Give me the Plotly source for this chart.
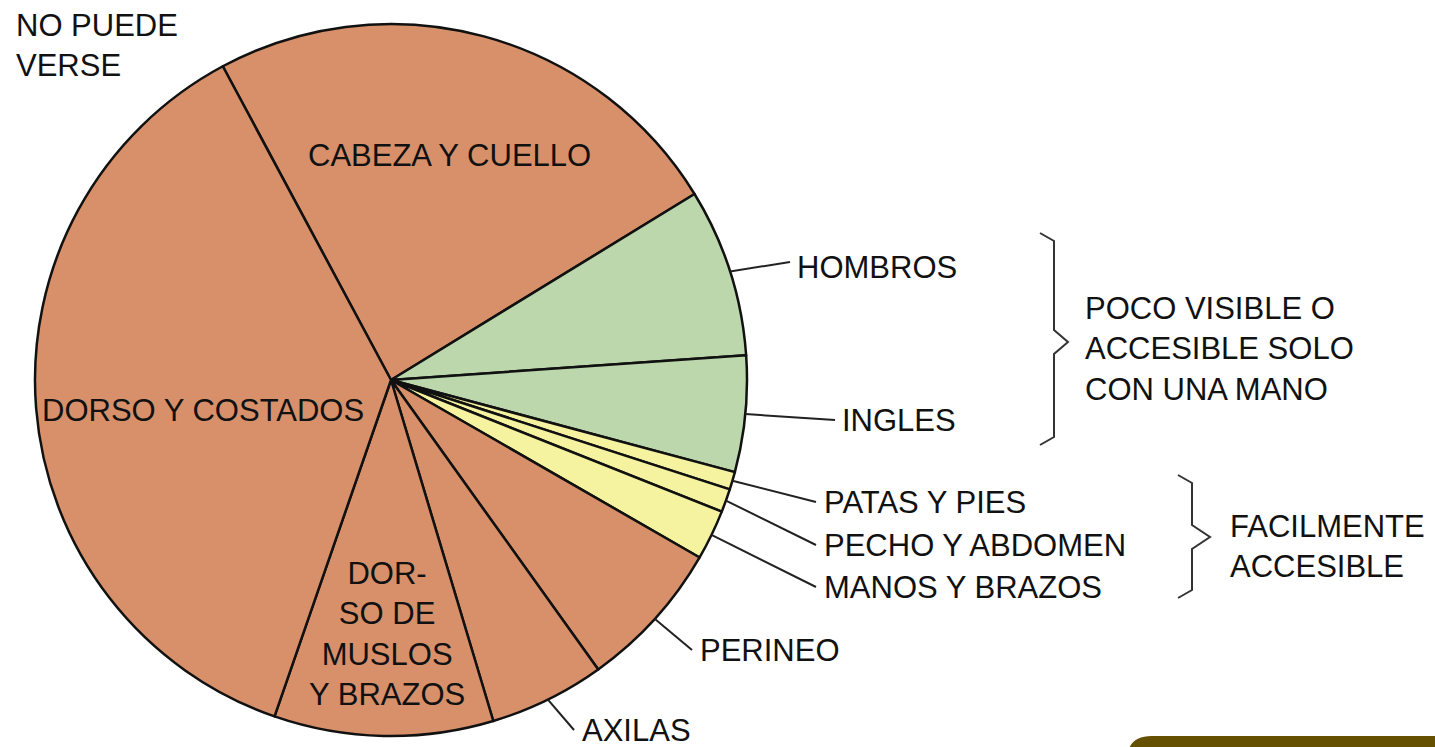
import math
import plotly.graph_objects as go

W, H = 1435, 747

# slices, clockwise from the top-left boundary (angles, in degrees)
parts = ["CABEZA Y CUELLO", "HOMBROS", "INGLES", "PATAS Y PIES", "PECHO Y ABDOMEN",
         "MANOS Y BRAZOS", "PERINEO", "AXILAS", "DORSO DE MUSLOS Y BRAZOS", "DORSO Y COSTADOS"]
shares = [86.7, 27.5, 19.0, 2.9, 3.8, 8.2, 24.5, 18.9, 35.8, 132.7]
groups = ["no", "poco", "poco", "facil", "facil", "facil", "no", "no", "no", "no"]

group_colors = {"no": "#D7906A", "poco": "#BBD7AB", "facil": "#F5F3A0"}

# pie geometry in pixels
cx, cy, r = 391, 380, 356
rotation = -28.2


def px(x):
    return x / W


def py(y):
    return 1 - y / H


fig = go.Figure()
fig.add_trace(go.Pie(
    labels=parts, values=shares, sort=False, direction="clockwise", rotation=rotation,
    marker=dict(colors=[group_colors[g] for g in groups], line=dict(color="#111", width=2.5)),
    textinfo="none", hoverinfo="label+percent", showlegend=False,
    domain=dict(x=[px(cx - r), px(cx + r)], y=[py(cy + r), py(cy - r)]),
))

# mid angle of each slice -> start of its leader line on the rim
total = sum(shares)
mids = {}
acc = 0
for name, v in zip(parts, shares):
    a = math.radians(rotation + (acc + v / 2) / total * 360)
    mids[name] = (cx + r * math.sin(a), cy - r * math.cos(a))
    acc += v

# outside labels: name -> leader end, text left edge / centre y
outside = {
    "HOMBROS": ((790, 262), (795, 267)),
    "INGLES": ((835, 420), (840, 420)),
    "PATAS Y PIES": ((816, 502), (822, 502)),
    "PECHO Y ABDOMEN": ((816, 545), (822, 545)),
    "MANOS Y BRAZOS": ((816, 587), (822, 587)),
    "PERINEO": ((692, 650), (698, 650)),
    "AXILAS": ((574, 730), (580, 730)),
}

font = dict(family="Liberation Sans, Arial, sans-serif", size=31, color="#111")

for name, ((ex, ey), (tx, ty)) in outside.items():
    sx, sy = mids[name]
    fig.add_shape(type="line", xref="paper", yref="paper",
                  x0=px(sx), y0=py(sy), x1=px(ex), y1=py(ey),
                  line=dict(color="#222", width=2))
    fig.add_annotation(x=px(tx), y=py(ty), xref="paper", yref="paper", text=name,
                       showarrow=False, xanchor="left", yanchor="middle", font=font)

# labels inside the slices
inside = [
    ("CABEZA Y CUELLO", 449, 155),
    ("DORSO Y COSTADOS", 203, 410),
    ("DOR-<br>SO DE<br>MUSLOS<br>Y BRAZOS", 387, 634),
]
for text, x, y in inside:
    fig.add_annotation(x=px(x), y=py(y), xref="paper", yref="paper", text=text,
                       showarrow=False, align="center", xanchor="center", yanchor="middle",
                       font=font)

# group notes
notes = [
    ("NO PUEDE<br>VERSE", 14, 46),
    ("POCO VISIBLE O<br>ACCESIBLE SOLO<br>CON UNA MANO", 1083, 349),
    ("FACILMENTE<br>ACCESIBLE", 1228, 546),
]
for text, x, y in notes:
    fig.add_annotation(x=px(x), y=py(y), xref="paper", yref="paper", text=text,
                       showarrow=False, align="left", xanchor="left", yanchor="middle", font=font)


def brace(x0, top, bottom, tip_x, tip_y):
    xv = x0 + 14
    pts = [(x0, top), (xv, top + 8), (xv, tip_y - 12), (tip_x, tip_y),
           (xv, tip_y + 12), (xv, bottom - 8), (x0, bottom)]
    return "M " + " L ".join(f"{px(a)},{py(b)}" for a, b in pts)


for args in [(1040, 233, 445, 1068, 342), (1178, 475, 598, 1210, 537)]:
    fig.add_shape(type="path", xref="paper", yref="paper", path=brace(*args),
                  line=dict(color="#333", width=2))

# olive corner tab of the slide
fig.add_shape(type="path", xref="paper", yref="paper",
              path=f"M {px(1127)},{py(760)} "
                   f"Q {px(1127)},{py(736)} {px(1152)},{py(736)} L {px(1435)},{py(736)} "
                   f"L {px(1435)},{py(760)} Z",
              fillcolor="#645000", line=dict(width=0))

fig.update_layout(
    width=W, height=H, margin=dict(l=0, r=0, t=0, b=0),
    paper_bgcolor="white", plot_bgcolor="white",
)
fig.write_html("out.html", config={"displayModeBar": False},
               post_script="document.body.style.margin='0px';")
